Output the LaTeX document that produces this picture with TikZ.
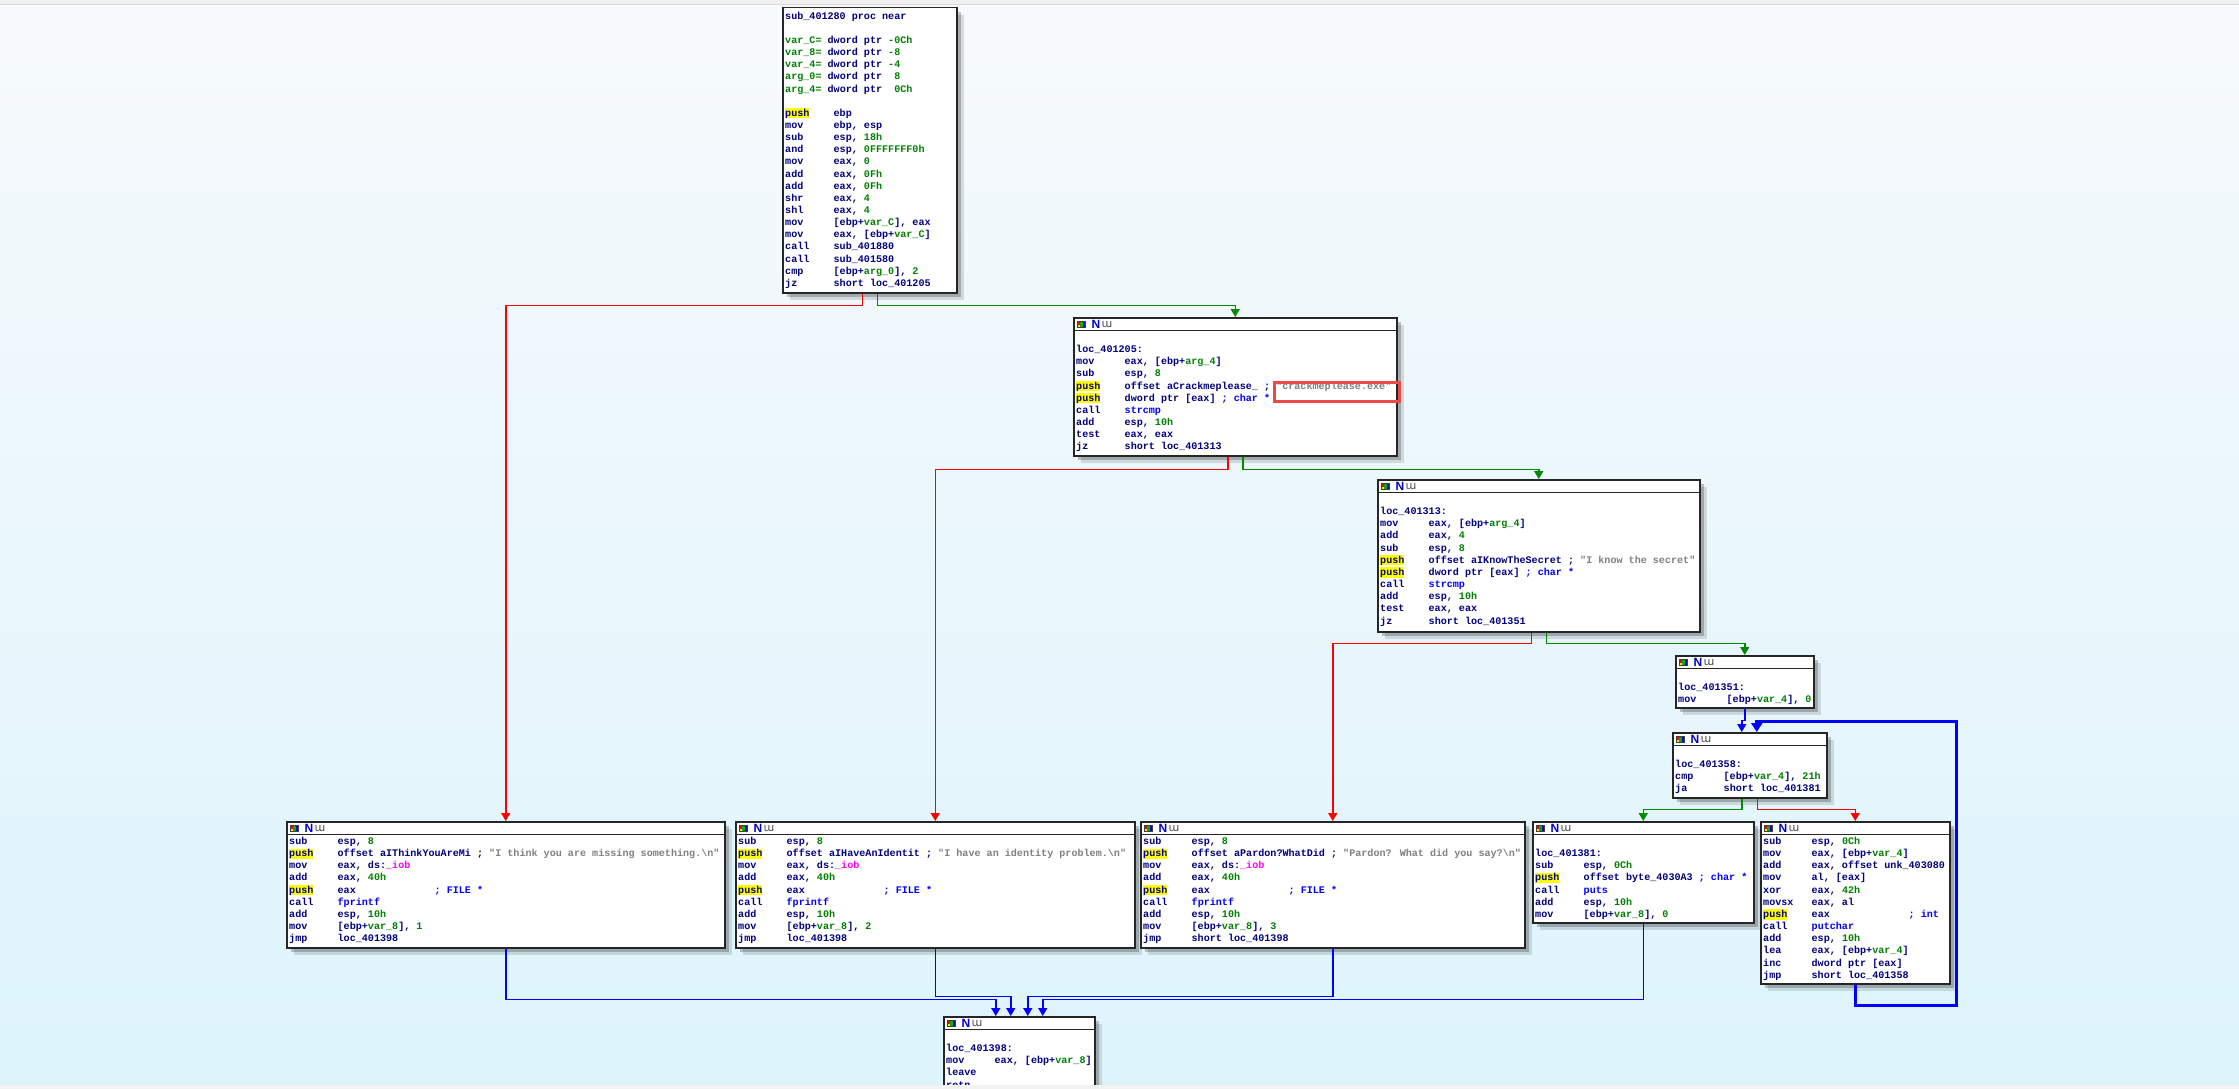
\documentclass[tikz,border=0pt]{standalone}
\usepackage{fontspec}
\usetikzlibrary{arrows.meta, calc, shadows}

\newfontfamily\idafont{Liberation Mono}
\newfontfamily\hdrfont{Liberation Sans}
\newfontfamily\ipafont{DejaVu Sans}

\definecolor{idanavy}{HTML}{000080}
\definecolor{idagreen}{HTML}{008000}
\definecolor{idagray}{HTML}{808080}
\definecolor{idablue}{HTML}{0000FF}
\definecolor{idamag}{HTML}{FF00FF}
\definecolor{idayel}{HTML}{FFFF00}
\definecolor{idaN}{HTML}{0000C8}
\definecolor{edgered}{HTML}{FF0000}
\definecolor{edgegreen}{HTML}{008A00}
\definecolor{edgeblue}{HTML}{0000FF}
\definecolor{markred}{HTML}{EC4A4A}
\definecolor{bgtop}{HTML}{F7FAFC}
\definecolor{bgbot}{HTML}{DDF4FC}

\newlength\cw
\setlength\cw{6.06pt}
\newcommand\iln[2]{\strut\makebox[8\cw][l]{#1}#2}
\newcommand\inum[1]{\textcolor{idagreen}{#1}}
\newcommand\istr[1]{\textcolor{idagray}{#1}}
\newcommand\icmt[1]{\textcolor{idablue}{#1}}
\newcommand\imag[1]{\textcolor{idamag}{#1}}
\newcommand\igap[1]{\hspace*{#1\cw}}
\newcommand\ipush{{\setlength\fboxsep{0pt}\colorbox{idayel}{\rule[-2pt]{0pt}{10pt}push}}}

\begin{document}
\begin{tikzpicture}[
  x=1pt, y=-1pt,
  >={Triangle[width=9pt,length=8pt]},
  blk/.style={draw=black!85, line width=1.5pt, fill=white, anchor=north west, inner sep=0pt,
    drop shadow={shadow xshift=7pt, shadow yshift=-7pt, fill=black, opacity=.12},
    drop shadow={shadow xshift=4pt, shadow yshift=-4pt, fill=black, opacity=.22}},
  code/.style={anchor=north west, inner sep=0pt, align=left, text=idanavy,
    font=\idafont\bfseries\fontsize{10.1}{12.15}\selectfont},
  hdr/.style={inner sep=0pt, text=idaN, font=\hdrfont\bfseries\fontsize{12}{12}\selectfont},
  hdrw/.style={inner sep=0pt, text=black!70, font=\ipafont\fontsize{11}{11}\selectfont},
  sep/.style={draw=black!85, line width=1.3pt},
  hlbox/.style={draw=markred, line width=3pt, anchor=north west, inner sep=0pt},
  redge/.style={->, draw=edgered, line width=1.5pt},
  gedge/.style={->, draw=edgegreen, line width=1.5pt},
  bedge/.style={->, draw=edgeblue, line width=1.5pt},
  bloop/.style={-{Triangle[width=11pt,length=9pt]}, draw=edgeblue, line width=3pt},
]
  \useasboundingbox (0,0) rectangle (2239,1089);
  \shade[top color=bgtop, bottom color=bgbot] (0,0) rectangle (2239,1089);

  \node[blk, minimum width=174, minimum height=285] (btop) at (782,7) {};
  \node[blk, minimum width=323, minimum height=138] (b205) at (1073,317) {};
  \node[blk, minimum width=322, minimum height=152] (b313) at (1377,479) {};
  \node[blk, minimum width=138, minimum height=52] (b351) at (1675,655) {};
  \node[blk, minimum width=154, minimum height=65] (b358) at (1672,732) {};
  \node[blk, minimum width=438, minimum height=126] (bA) at (286,821) {};
  \node[blk, minimum width=399, minimum height=126] (bB) at (735,821) {};
  \node[blk, minimum width=384, minimum height=126] (bC) at (1140,821) {};
  \node[blk, minimum width=221, minimum height=101] (b381) at (1532,821) {};
  \node[blk, minimum width=189, minimum height=162] (bR) at (1760,821) {};
  \node[blk, minimum width=151, minimum height=100] (bD) at (943,1016) {};
  \coordinate (loopc) at (1956,721);

  \foreach \b in {b205,b313,b351,b358,bA,bB,bC,b381,bR,bD} {
    \draw[sep] ($(\b.north west)+(0,13.5)$) -- ($(\b.north east)+(0,13.5)$);
    \fill[black!75] ($(\b.north west)+(3.5,3.5)$) rectangle ++(9,7.5);
    \fill[red] ($(\b.north west)+(4.5,4.5)$) rectangle ++(2.5,3);
    \fill[yellow!90!orange] ($(\b.north west)+(4.5,7.5)$) rectangle ++(2.5,2.5);
    \fill[green!70!black] ($(\b.north west)+(7,4.5)$) rectangle ++(2.5,5.5);
    \fill[blue] ($(\b.north west)+(9.5,4.5)$) rectangle ++(2,5.5);
    \node[hdr] (\b-n) at ($(\b.north west)+(23,7.5)$) {N};
    \node[hdrw] (\b-w) at ($(\b.north west)+(34,7.5)$) {ɯ};
  }

  \node[code] (ttop) at ($(btop.north west)+(3,3.4)$) {%
    \strut sub\_401280 proc near\\
    \strut\\
    \strut\inum{var\_C=} dword ptr \inum{-0Ch}\\
    \strut\inum{var\_8=} dword ptr \inum{-8}\\
    \strut\inum{var\_4=} dword ptr \inum{-4}\\
    \strut\inum{arg\_0=} dword ptr \igap{1}\inum{8}\\
    \strut\inum{arg\_4=} dword ptr \igap{1}\inum{0Ch}\\
    \strut\\
    \iln{\ipush}{ebp}\\
    \iln{mov}{ebp, esp}\\
    \iln{sub}{esp, \inum{18h}}\\
    \iln{and}{esp, \inum{0FFFFFFF0h}}\\
    \iln{mov}{eax, \inum{0}}\\
    \iln{add}{eax, \inum{0Fh}}\\
    \iln{add}{eax, \inum{0Fh}}\\
    \iln{shr}{eax, \inum{4}}\\
    \iln{shl}{eax, \inum{4}}\\
    \iln{mov}{[ebp+\inum{var\_C}], eax}\\
    \iln{mov}{eax, [ebp+\inum{var\_C}]}\\
    \iln{call}{sub\_401880}\\
    \iln{call}{sub\_401580}\\
    \iln{cmp}{[ebp+\inum{arg\_0}], \inum{2}}\\
    \iln{jz}{short loc\_401205}};

  \node[code] (t205) at ($(b205.north west)+(3,14.8)$) {%
    \strut\\
    \strut loc\_401205:\\
    \iln{mov}{eax, [ebp+\inum{arg\_4}]}\\
    \iln{sub}{esp, \inum{8}}\\
    \iln{\ipush}{offset aCrackmeplease\_ ; \istr{"crackmeplease.exe"}}\\
    \iln{\ipush}{dword ptr [eax] \icmt{; char *}}\\
    \iln{call}{\icmt{strcmp}}\\
    \iln{add}{esp, \inum{10h}}\\
    \iln{test}{eax, eax}\\
    \iln{jz}{short loc\_401313}};
  \node[hlbox, minimum width=124.5, minimum height=19.3] (crackmark) at (1273.2,380.7) {};

  \node[code] (t313) at ($(b313.north west)+(3,14.8)$) {%
    \strut\\
    \strut loc\_401313:\\
    \iln{mov}{eax, [ebp+\inum{arg\_4}]}\\
    \iln{add}{eax, \inum{4}}\\
    \iln{sub}{esp, \inum{8}}\\
    \iln{\ipush}{offset aIKnowTheSecret ; \istr{"I know the secret"}}\\
    \iln{\ipush}{dword ptr [eax] \icmt{; char *}}\\
    \iln{call}{\icmt{strcmp}}\\
    \iln{add}{esp, \inum{10h}}\\
    \iln{test}{eax, eax}\\
    \iln{jz}{short loc\_401351}};

  \node[code] (t351) at ($(b351.north west)+(3,14.8)$) {%
    \strut\\
    \strut loc\_401351:\\
    \iln{mov}{[ebp+\inum{var\_4}], \inum{0}}};

  \node[code] (t358) at ($(b358.north west)+(3,14.8)$) {%
    \strut\\
    \strut loc\_401358:\\
    \iln{cmp}{[ebp+\inum{var\_4}], \inum{21h}}\\
    \iln{ja}{short loc\_401381}};

  \node[code] (tA) at ($(bA.north west)+(3,14.8)$) {%
    \iln{sub}{esp, \inum{8}}\\
    \iln{\ipush}{offset aIThinkYouAreMi ; \istr{"I think you are missing something.\textbackslash n"}}\\
    \iln{mov}{eax, ds:\imag{\_iob}}\\
    \iln{add}{eax, \inum{40h}}\\
    \iln{\ipush}{eax\igap{13}\icmt{; FILE *}}\\
    \iln{call}{\icmt{fprintf}}\\
    \iln{add}{esp, \inum{10h}}\\
    \iln{mov}{[ebp+\inum{var\_8}], \inum{1}}\\
    \iln{jmp}{loc\_401398}};

  \node[code] (tB) at ($(bB.north west)+(3,14.8)$) {%
    \iln{sub}{esp, \inum{8}}\\
    \iln{\ipush}{offset aIHaveAnIdentit ; \istr{"I have an identity problem.\textbackslash n"}}\\
    \iln{mov}{eax, ds:\imag{\_iob}}\\
    \iln{add}{eax, \inum{40h}}\\
    \iln{\ipush}{eax\igap{13}\icmt{; FILE *}}\\
    \iln{call}{\icmt{fprintf}}\\
    \iln{add}{esp, \inum{10h}}\\
    \iln{mov}{[ebp+\inum{var\_8}], \inum{2}}\\
    \iln{jmp}{loc\_401398}};

  \node[code] (tC) at ($(bC.north west)+(3,14.8)$) {%
    \iln{sub}{esp, \inum{8}}\\
    \iln{\ipush}{offset aPardon?WhatDid ; \istr{"Pardon? What did you say?\textbackslash n"}}\\
    \iln{mov}{eax, ds:\imag{\_iob}}\\
    \iln{add}{eax, \inum{40h}}\\
    \iln{\ipush}{eax\igap{13}\icmt{; FILE *}}\\
    \iln{call}{\icmt{fprintf}}\\
    \iln{add}{esp, \inum{10h}}\\
    \iln{mov}{[ebp+\inum{var\_8}], \inum{3}}\\
    \iln{jmp}{short loc\_401398}};

  \node[code] (t381) at ($(b381.north west)+(3,14.8)$) {%
    \strut\\
    \strut loc\_401381:\\
    \iln{sub}{esp, \inum{0Ch}}\\
    \iln{\ipush}{offset byte\_4030A3 \icmt{; char *}}\\
    \iln{call}{\icmt{puts}}\\
    \iln{add}{esp, \inum{10h}}\\
    \iln{mov}{[ebp+\inum{var\_8}], \inum{0}}};

  \node[code] (tR) at ($(bR.north west)+(3,14.8)$) {%
    \iln{sub}{esp, \inum{0Ch}}\\
    \iln{mov}{eax, [ebp+\inum{var\_4}]}\\
    \iln{add}{eax, offset unk\_403080}\\
    \iln{mov}{al, [eax]}\\
    \iln{xor}{eax, \inum{42h}}\\
    \iln{movsx}{eax, al}\\
    \iln{\ipush}{eax\igap{13}\icmt{; int}}\\
    \iln{call}{\icmt{putchar}}\\
    \iln{add}{esp, \inum{10h}}\\
    \iln{lea}{eax, [ebp+\inum{var\_4}]}\\
    \iln{inc}{dword ptr [eax]}\\
    \iln{jmp}{short loc\_401358}};

  \node[code] (tD) at ($(bD.north west)+(3,14.8)$) {%
    \strut\\
    \strut loc\_401398:\\
    \iln{mov}{eax, [ebp+\inum{var\_8}]}\\
    \iln{leave}{}\\
    \iln{retn}{}};

  \draw[redge] ([xshift=-7.5]btop.south) -- ++(0,12) -| (bA.north);
  \draw[gedge] ([xshift=7.5]btop.south) -- ++(0,12) -| (b205.north);
  \draw[redge] ([xshift=-7.5]b205.south) -- ++(0,13) -| (bB.north);
  \draw[gedge] ([xshift=7.5]b205.south) -- ++(0,13) -| (b313.north);
  \draw[redge] ([xshift=-7.5]b313.south) -- ++(0,11) -| (bC.north);
  \draw[gedge] ([xshift=7.5]b313.south) -- ++(0,11) -| (b351.north);
  \draw[bedge] (b351.south) -- ++(0,12) -| ([xshift=-8]b358.north);
  \draw[bloop] (bR.south) -- ++(0,20.5) -| (loopc) -| ([xshift=7]b358.north);
  \draw[gedge] ([xshift=-8]b358.south) -- ++(0,11) -| (b381.north);
  \draw[redge] ([xshift=7.5]b358.south) -- ++(0,11) -| (bR.north);
  \draw[bedge] (bA.south) -- ++(0,51) -| ([xshift=-23.5]bD.north);
  \draw[bedge] (bB.south) -- ++(0,48) -| ([xshift=-8.5]bD.north);
  \draw[bedge] (bC.south) -- ++(0,48) -| ([xshift=8.5]bD.north);
  \draw[bedge] (b381.south) -- ++(0,76) -| ([xshift=23.5]bD.north);

  \fill[black!6] (0,0) rectangle (2239,5);
  \draw[black!15, line width=1pt] (0,5) -- (2239,5);
  \fill[black!5] (0,1085) rectangle (2239,1089);
\end{tikzpicture}
\end{document}
